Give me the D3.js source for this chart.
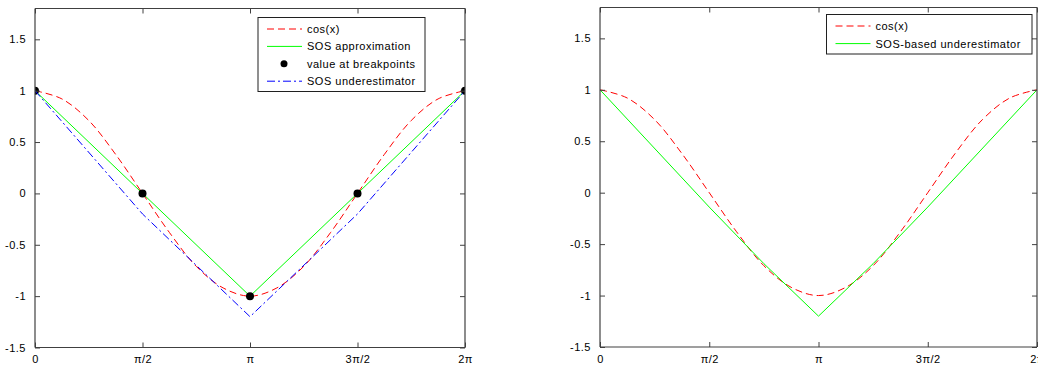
<!DOCTYPE html>
<html>
<head>
<meta charset="utf-8">
<script src="https://d3js.org/d3.v7.min.js"></script>
<title>cos(x) and SOS underestimators</title>
</head>
<style>
body {
  margin: 0;
  background: white;
}
svg {
  display: block;
}
text {
  font-family: "Liberation Sans", Arial, Helvetica, sans-serif;
  font-size: 11px;
  letter-spacing: 0.5px;
  fill: #000;
}
</style>
<body>
<svg width="1038" height="366"></svg>
</body>
<script>

// x values are in units of pi
let xTicks = [0, 0.5, 1, 1.5, 2];
let xTickLabels = ["0", "\u03c0/2", "\u03c0", "3\u03c0/2", "2\u03c0"];
let yTicks = [-1.5, -1, -0.5, 0, 0.5, 1, 1.5];
let yTickLabels = ["-1.5", "-1", "-0.5", "0", "0.5", "1", "1.5"];

// cos(x) sampled off the curve
let cosX = [0, 0.125, 0.25, 0.375, 0.5, 0.625, 0.75, 0.875, 1, 1.125, 1.25, 1.375, 1.5, 1.625, 1.75, 1.875, 2];
let cosY = [1, 0.92, 0.71, 0.38, 0, -0.38, -0.71, -0.92, -1, -0.92, -0.71, -0.38, 0, 0.38, 0.71, 0.92, 1];

// left panel
let breakX = [0, 0.5, 1, 1.5, 2];
let approxY = [1, 0, -1, 0, 1];
let underX = [0, 0.5, 1, 1.5, 2];
let underY = [1, -0.2, -1.2, -0.2, 1];

// right panel
let sosX = [0, 0.5, 0.75, 1, 1.25, 1.5, 2];
let sosY = [1, -0.14, -0.69, -1.2, -0.69, -0.14, 1];

let red = "#ff0000", green = "#00ff00", blue = "#0000ff", axisCol = "#404040";

function pts(xs, ys) {
  return xs.map(function(x, i){ return [x, ys[i]]; });
}

function drawPanel(p) {
  let svg = d3.select("svg");
  let g = svg.append("g");

  let x = d3.scaleLinear().domain([0, 2]).range([p.left, p.right]);
  let y = d3.scaleLinear().domain([-1.5, 1.8]).range([p.bottom, p.top]);

  let line = d3.line()
    .x(function(d){ return x(d[0]); })
    .y(function(d){ return y(d[1]); });

  // clip so nothing spills out of the box
  let clipId = "clip" + p.id;
  svg.append("clipPath").attr("id", clipId).append("rect")
    .attr("x", p.left).attr("y", p.top)
    .attr("width", p.right - p.left).attr("height", p.bottom - p.top);
  let plot = g.append("g").attr("clip-path", "url(#" + clipId + ")");

  p.series.forEach(function(s){
    if (s.dots) {
      plot.selectAll("circle.dot").data(pts(s.x, s.y)).enter().append("circle")
        .attr("class", "dot")
        .attr("cx", function(d){ return x(d[0]); })
        .attr("cy", function(d){ return y(d[1]); })
        .attr("r", 4)
        .attr("fill", "black");
    } else {
      plot.append("path")
        .datum(pts(s.x, s.y))
        .attr("d", line.curve(s.smooth ? d3.curveCatmullRom : d3.curveLinear))
        .attr("fill", "none")
        .attr("stroke", s.color)
        .attr("stroke-width", 1)
        .attr("stroke-dasharray", s.dash);
    }
  });

  // box with inward ticks on all sides
  let axL = g.append("g").attr("transform", "translate(" + p.left + ",0)")
    .call(d3.axisLeft(y).tickValues(yTicks).tickSize(-5).tickPadding(9)
      .tickFormat(function(d, i){ return yTickLabels[i]; }));
  let axR = g.append("g").attr("transform", "translate(" + p.right + ",0)")
    .call(d3.axisRight(y).tickValues(yTicks).tickSize(-5).tickFormat(""));
  let axB = g.append("g").attr("transform", "translate(0," + p.bottom + ")")
    .call(d3.axisBottom(x).tickValues(xTicks).tickSize(-5).tickPadding(9)
      .tickFormat(function(d, i){ return xTickLabels[i]; }));
  let axT = g.append("g").attr("transform", "translate(0," + p.top + ")")
    .call(d3.axisTop(x).tickValues(xTicks).tickSize(-5).tickFormat(""));

  [axL, axR, axB, axT].forEach(function(a){
    a.selectAll("path.domain").attr("stroke", axisCol).attr("stroke-width", 1.2);
    a.selectAll("line").attr("stroke", axisCol);
    a.selectAll("text").attr("font-family", null).attr("font-size", null);
  });
  axL.select(".domain").attr("d", "M0," + p.top + "V" + p.bottom);
  axR.select(".domain").attr("d", "M0," + p.top + "V" + p.bottom);
  axB.select(".domain").attr("d", "M" + p.left + ",0H" + p.right);
  axT.select(".domain").attr("d", "M" + p.left + ",0H" + p.right);
  axB.selectAll("text").attr("dy", "0.6em");

  // legend
  let L = p.legend;
  g.append("rect")
    .attr("x", L.x).attr("y", L.y).attr("width", L.w).attr("height", L.h)
    .attr("fill", "white").attr("stroke", "#202020").attr("stroke-width", 1);
  p.series.forEach(function(s, i){
    let cy = L.y + 11.5 + i * L.step;
    if (s.dots) {
      g.append("circle").attr("cx", L.x + 26).attr("cy", cy).attr("r", 3.5).attr("fill", "black");
    } else {
      g.append("line")
        .attr("x1", L.x + 9).attr("x2", L.x + 44)
        .attr("y1", cy).attr("y2", cy)
        .attr("stroke", s.color).attr("stroke-width", 1)
        .attr("stroke-dasharray", s.dash);
    }
    g.append("text").attr("x", L.x + 49).attr("y", cy + 4).text(s.name);
  });
}

drawPanel({
  id: 1, left: 35, right: 465, top: 8.5, bottom: 347.5,
  legend: {x: 258, y: 17.5, w: 167, h: 74, step: 17.4},
  series: [
    {name: "cos(x)", x: cosX, y: cosY, color: red, dash: "7,4", smooth: true},
    {name: "SOS approximation", x: breakX, y: approxY, color: green, dash: null},
    {name: "value at breakpoints", x: breakX, y: approxY, dots: true},
    {name: "SOS underestimator", x: underX, y: underY, color: blue, dash: "8,3,2,3"}
  ]
});

drawPanel({
  id: 2, left: 600, right: 1037, top: 7.5, bottom: 347,
  legend: {x: 826.5, y: 14.5, w: 205.5, h: 39.5, step: 17.6},
  series: [
    {name: "cos(x)", x: cosX, y: cosY, color: red, dash: "7,4", smooth: true},
    {name: "SOS-based underestimator", x: sosX, y: sosY, color: green, dash: null}
  ]
});

</script>
</html>
